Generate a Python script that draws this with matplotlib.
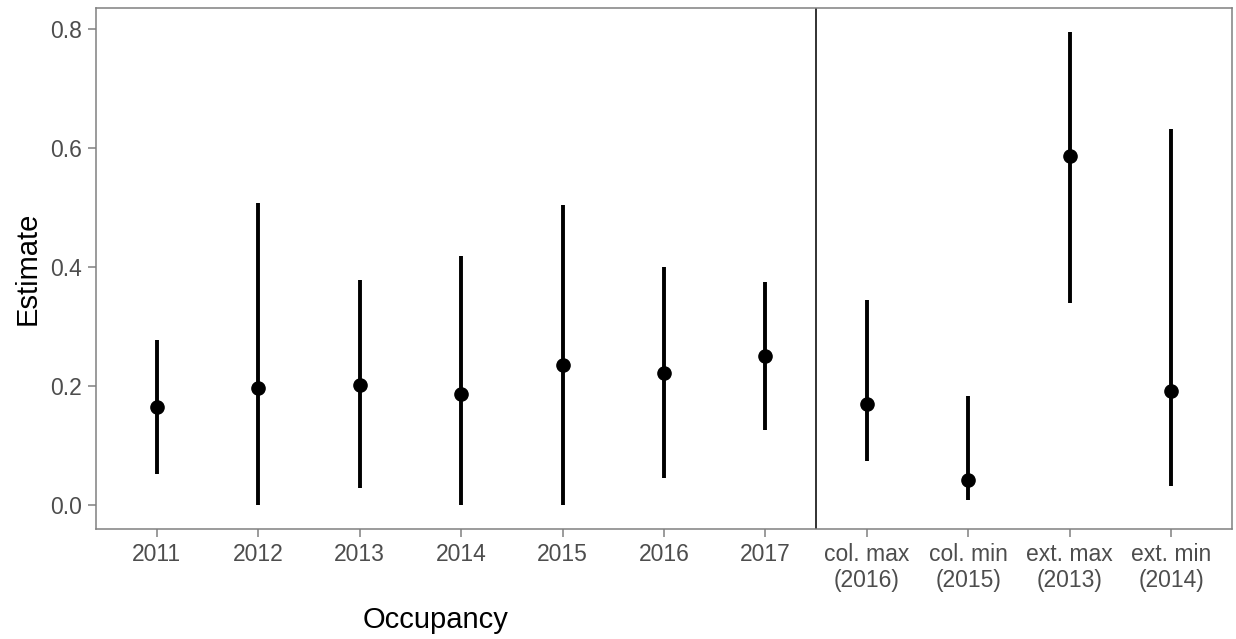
import matplotlib.pyplot as plt
import numpy as np

plt.rcParams['font.family'] = ['Liberation Sans', 'DejaVu Sans']

# data
labels = ['2011', '2012', '2013', '2014', '2015', '2016', '2017',
          'col. max\n(2016)', 'col. min\n(2015)', 'ext. max\n(2013)', 'ext. min\n(2014)']
estimate = [0.165, 0.197, 0.202, 0.186, 0.236, 0.222, 0.251, 0.170, 0.043, 0.586, 0.191]
lower = [0.053, 0.000, 0.028, 0.000, 0.000, 0.045, 0.127, 0.074, 0.009, 0.340, 0.032]
upper = [0.277, 0.507, 0.378, 0.418, 0.504, 0.400, 0.374, 0.344, 0.184, 0.794, 0.631]
y_ticks = [0.0, 0.2, 0.4, 0.6, 0.8]

x = np.arange(len(labels))

fig = plt.figure(figsize=(12.36, 6.39), dpi=100)
ax = fig.add_axes([96 / 1236, 110 / 639, (1232 - 96) / 1236, (529.5 - 8.3) / 639])

ax.vlines(x, lower, upper, color='black', linewidth=2.8, zorder=2)
ax.plot(x, estimate, 'o', color='black', markersize=9.5, zorder=3)
ax.axvline(6.5, color='#222222', linewidth=1.3, zorder=1)

ax.set_xlim(-0.6, len(labels) - 0.4)
ax.set_ylim(-0.04, 0.835)
ax.set_xticks(x)
ax.set_xticklabels(labels)
ax.set_yticks(y_ticks)
ax.set_yticklabels(['%.1f' % v for v in y_ticks])

for s in ax.spines.values():
    s.set_color('#808080')
    s.set_linewidth(1.1)
ax.tick_params(colors='#808080', labelcolor='#4d4d4d', labelsize=16.5,
               length=5.5, width=1.1, pad=4.5)

ax.set_ylabel('Estimate', fontsize=21, color='black', labelpad=6)
fig.text(436 / 1236, 1 - 620 / 639, 'Occupancy', fontsize=21,
         ha='center', va='center', color='black')

fig.savefig('out.png', dpi=100, facecolor='white')
